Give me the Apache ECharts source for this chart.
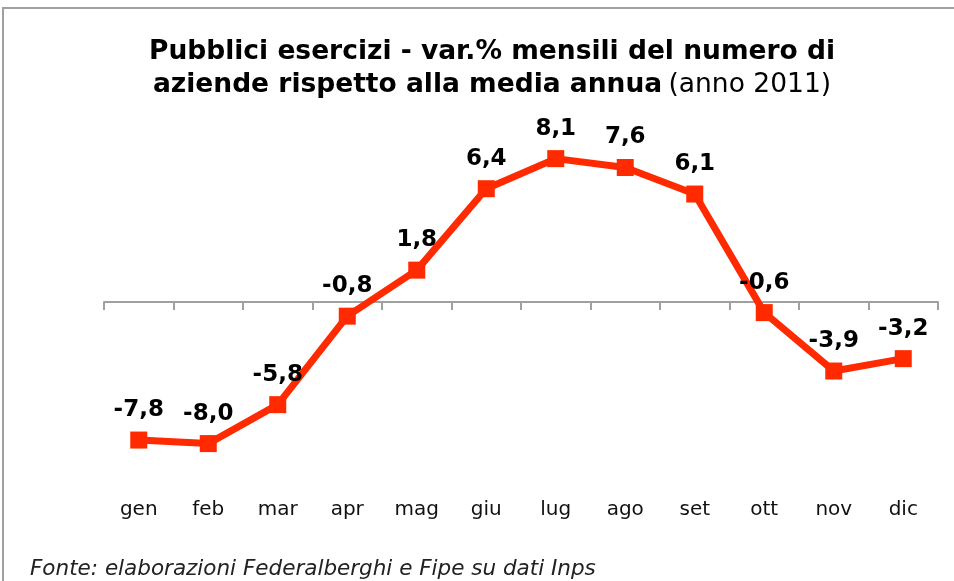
<!DOCTYPE html>
<html>
<head>
<meta charset="utf-8">
<script src="https://cdn.jsdelivr.net/npm/echarts@6/dist/echarts.min.js"></script>
<style>
  html, body { margin: 0; padding: 0; background: #fff; }
  #chart { width: 954px; height: 581px; }
</style>
</head>
<body>
<div id="chart"></div>
<script>
const months = ["gen", "feb", "mar", "apr", "mag", "giu", "lug", "ago", "set", "ott", "nov", "dic"];
const variazioni = [-7.8, -8.0, -5.8, -0.8, 1.8, 6.4, 8.1, 7.6, 6.1, -0.6, -3.9, -3.2];

const chart = echarts.init(document.getElementById("chart"));

chart.setOption({
  animation: false,
  textStyle: { fontFamily: "DejaVu Sans" },
  graphic: [
    {
      type: "rect",
      shape: { x: 3, y: 8, width: 980, height: 620 },
      style: { fill: "none", stroke: "#a0a0a0", lineWidth: 2 },
    },
    {
      type: "text",
      left: 30,
      top: 558,
      style: {
        text: "Fonte: elaborazioni Federalberghi e Fipe su dati Inps",
        font: "italic 21.5px 'DejaVu Sans'",
        fill: "#222",
      },
    },
  ],
  title: {
    left: 487,
    top: 31,
    textAlign: "center",
    text: "{b|Pubblici esercizi - var.% mensili del numero di}\n{b|aziende rispetto alla media annua} {n|(anno 2011)}",
    textStyle: {
      rich: {
        b: { fontFamily: "DejaVu Sans", fontSize: 26.5, fontWeight: "bold", color: "#000", lineHeight: 33 },
        n: { fontFamily: "DejaVu Sans", fontSize: 26.5, fontWeight: "normal", color: "#000", lineHeight: 33 },
      },
    },
  },
  grid: {
    left: 104,
    right: 16,
    top: 125,
    bottom: 102,
  },
  xAxis: [
    {
      type: "category",
      data: months,
      boundaryGap: true,
      axisLine: { onZero: true, lineStyle: { color: "#a0a0a0", width: 2 } },
      axisTick: { show: true, length: 8, lineStyle: { color: "#a0a0a0", width: 2 } },
      axisLabel: { show: false },
    },
    {
      type: "category",
      data: months,
      position: "bottom",
      axisLine: { show: false, onZero: false },
      axisTick: { show: false },
      axisLabel: { margin: 21, fontSize: 20, color: "#111", fontFamily: "DejaVu Sans" },
    },
  ],
  yAxis: {
    type: "value",
    min: -10,
    max: 10,
    show: false,
    splitLine: { show: false },
  },
  series: [
    {
      type: "line",
      xAxisIndex: 0,
      data: variazioni,
      symbol: "rect",
      symbolSize: 17,
      lineStyle: { color: "#ff2a00", width: 7 },
      itemStyle: { color: "#ff2a00" },
      label: {
        show: true,
        position: "top",
        distance: 10,
        fontSize: 23,
        fontWeight: "bold",
        color: "#000",
        fontFamily: "DejaVu Sans",
        formatter: (p) => p.value.toFixed(1).replace(".", ","),
      },
    },
  ],
});
</script>
</body>
</html>
